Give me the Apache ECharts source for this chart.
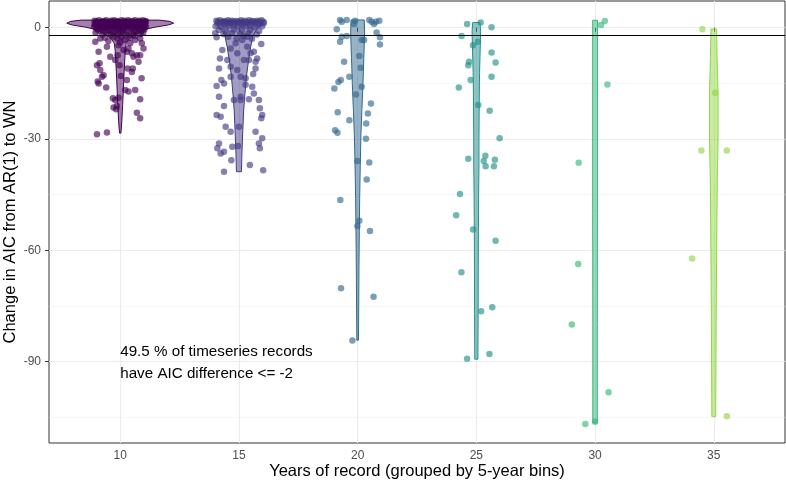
<!DOCTYPE html>
<html>
<head>
<meta charset="utf-8">
<script src="https://cdn.jsdelivr.net/npm/echarts@6/dist/echarts.min.js"></script>
<style>
  html, body { margin: 0; padding: 0; background: #fff; }
  #chart { width: 786px; height: 484px; }
</style>
</head>
<body>
<div id="chart"></div>
<script>
// bins and colours (viridis)
var bins = [10, 15, 20, 25, 30, 35];
var colors = ['#440154', '#443A83', '#31688E', '#21908C', '#35B779', '#8FD744'];
var yTicks = [-90, -60, -30, 0];
var yMinor = [-105, -75, -45, -15];
var threshold = -2;
var noteText = '49.5 % of timeseries records\nhave AIC difference <= -2';
var notePos = [10, -90.25];

// jittered points: [years (jittered), change in AIC]
var pts10 = [
  [8.92,1.9],[9.1,2.0],[9.27,1.8],[9.41,2.0],[9.6,1.9],[9.74,2.0],[9.88,1.8],[10.05,2.0],[10.18,1.9],[10.33,2.0],[10.49,1.8],[10.62,2.0],[10.8,1.9],[10.95,2.0],[11.06,1.8],
  [9.0,1.7],[9.19,1.6],[9.36,1.7],[9.55,1.6],[9.71,1.7],[9.9,1.6],[10.1,1.7],[10.24,1.6],[10.4,1.7],[10.6,1.6],[10.77,1.7],[10.92,1.6],[11.08,1.7],
  [8.98,1.4],[9.17,1.3],[9.33,1.5],[9.52,1.4],[9.69,1.2],[9.83,1.5],[10.0,1.3],[10.12,1.4],[10.27,1.5],[10.44,1.2],[10.58,1.4],[10.73,1.5],[10.9,1.3],[11.03,1.4],
  [8.93,1.1],[9.14,1.1],[9.38,1.2],[9.57,1.0],[9.8,1.1],[10.02,1.2],[10.2,1.0],[10.47,1.1],[10.65,1.2],[10.83,1.0],[11.05,1.1],
  [8.95,0.9],[9.12,0.8],[9.3,1.0],[9.46,0.7],[9.63,0.9],[9.79,1.0],[9.94,0.8],[10.09,0.9],[10.22,0.7],[10.38,1.0],[10.54,0.8],[10.68,0.9],[10.86,1.0],[11.0,0.7],
  [9.05,0.6],[9.2,0.6],[9.44,0.5],[9.66,0.6],[9.85,0.5],[10.13,0.6],[10.3,0.5],[10.52,0.6],[10.7,0.5],[10.88,0.6],[11.04,0.5],
  [8.9,0.3],[9.08,0.4],[9.25,0.2],[9.4,0.3],[9.58,0.5],[9.76,0.2],[9.91,0.3],[10.07,0.4],[10.25,0.1],[10.41,0.3],[10.57,0.5],[10.75,0.2],[10.93,0.4],[11.08,0.3],
  [9.0,0.0],[9.31,-0.1],[9.64,0.0],[9.96,-0.1],[10.2,0.0],[10.5,-0.1],[10.71,0.0],[10.98,-0.1],
  [9.03,-0.5],[9.22,-0.3],[9.55,-0.6],[9.86,-0.4],[10.15,-0.5],[10.46,-0.3],[10.8,-0.6],[11.02,-0.4],
  [9.13,-0.9],[9.47,-0.8],[9.8,-1.0],[10.1,-0.9],[10.59,-0.8],[10.88,-1.0],
  [8.96,-1.3],[9.36,-1.1],[9.7,-1.4],[10.03,-1.2],[10.35,-1.5],[10.66,-1.1],[10.97,-1.3],
  [9.25,-1.8],[9.6,-1.9],[9.92,-1.7],[10.27,-1.9],[10.55,-1.8],[10.85,-1.7],
  [9.35,-2.7],[9.88,-3.0],[10.05,-2.4],[10.4,-2.8],[10.62,-2.2],[9.5,-3.6],[10.0,-4.0],
  [8.95,-3.8],[9.09,-6.5],[9.02,-10.1],[9.13,-9.6],[9.05,-14.5],[9.09,-15.0],[9.41,-16.1],[9.23,-13.2],
  [9.58,-7.8],[9.79,-8.7],[9.89,-7.4],[9.93,-4.7],[10.14,-6.0],[10.28,-6.5],[10.35,-5.6],[10.49,-6.9],
  [10.56,-7.8],[10.7,-7.4],[10.84,-7.4],[10.91,-4.2],[10.98,-5.6],[10.42,-4.2],[10.53,-11.0],[10.49,-11.9],
  [10.63,-16.8],[10.9,-13.6],[10.28,-14.1],[10.21,-16.8],[10.35,-17.2],[9.69,-19.0],[9.79,-19.5],[9.93,-18.9],
  [9.86,-21.1],[9.72,-21.5],[9.83,-22.0],[10.7,-22.9],[10.84,-19.3],[10.84,-24.4],[9.02,-28.7],[9.44,-28.2],
  [9.97,-10.1],[10.03,-13.0],[10.31,-11.0],[9.16,-11.4],[9.3,-12.8],[9.44,-5.1],[10.77,-9.2],[10.17,-3.3],
  [9.16,-2.9],[9.72,-2.4],[10.84,-2.9],[10.63,-3.3]
];
var pts15 = [
  [14.05,1.9],[14.2,2.0],[14.38,1.8],[14.55,2.0],[14.72,1.9],[14.9,1.8],[15.08,2.0],[15.25,1.9],[15.43,2.0],[15.6,1.8],[15.78,1.9],[15.95,2.0],
  [14.12,1.7],[14.3,1.6],[14.47,1.7],[14.63,1.6],[14.8,1.7],[14.99,1.6],[15.16,1.7],[15.34,1.6],[15.52,1.7],[15.69,1.6],[15.87,1.7],[16.03,1.6],
  [14.1,1.2],[14.3,1.4],[14.48,1.1],[14.66,1.3],[14.84,1.2],[15.02,1.4],[15.18,1.0],[15.36,1.3],[15.55,1.2],[15.72,1.4],[15.9,1.1],[16.05,1.3],
  [14.02,0.4],[14.25,0.2],[14.6,0.5],[14.95,0.3],[15.3,0.4],[15.66,0.1],[15.98,0.4],
  [14.4,0.8],[14.77,0.7],[15.12,0.8],[15.47,0.6],[15.82,0.8],
  [14.15,-0.6],[14.45,-0.8],[14.8,-0.5],[15.12,-0.7],[15.48,-0.6],[15.85,-0.9],
  [14.0,-1.5],[14.35,-1.7],[14.7,-1.4],[15.05,-1.6],[15.4,-1.5],[15.75,-1.8],
  [14.55,-2.4],[14.9,-2.9],[15.2,-2.2],[15.55,-3.0],
  [14.06,-2.6],[14.3,-6.0],[14.2,-8.3],[14.16,-11.0],[14.26,-14.1],[14.06,-15.7],[14.37,-15.0],[14.16,-18.6],
  [14.37,-21.1],[14.06,-23.5],[14.23,-24.0],[14.44,-26.7],[14.65,-28.0],[14.16,-31.2],[14.09,-32.5],[14.23,-33.9],
  [14.37,-33.4],[14.37,-38.8],[14.72,-32.1],[14.68,-35.7],[14.96,-31.9],[15.0,-26.7],[15.07,-18.6],[15.07,-13.2],
  [14.93,-11.4],[15.28,-15.4],[15.42,-8.7],[15.63,-6.5],[15.7,-9.2],[15.77,-8.3],[15.7,-11.0],[15.35,-5.1],
  [15.49,-6.9],[15.21,-8.7],[15.14,-3.3],[15.35,-2.4],[14.86,-4.2],[14.65,-5.6],[14.93,-6.9],[14.51,-8.7],
  [15.63,-17.7],[15.84,-19.5],[15.88,-21.7],[15.98,-23.5],[15.94,-24.4],[15.7,-28.0],[15.98,-29.8],[15.84,-31.2],
  [15.88,-32.5],[15.46,-37.0],[16.02,-38.4],[15.56,-15.9],[15.07,-19.5],[14.79,-19.5],[15.28,-13.6],[14.65,-13.2],
  [14.65,-10.5],[15.94,-4.4],[15.6,-12.5],[15.42,-19.3]
];
var pts20 = [
  [19.26,2.1],[19.33,1.6],[19.54,2.1],[19.89,1.9],[19.85,1.0],[20.49,2.1],[20.59,1.6],[20.69,1.0],
  [20.77,1.6],[20.91,1.9],[19.12,-0.4],[19.33,-2.4],[19.54,-2.2],[19.26,-3.8],[20.17,-3.3],[20.27,-3.3],
  [20.8,-1.3],[20.94,-2.6],[20.94,-4.5],[19.43,-9.2],[20.07,-7.6],[20.13,-10.8],[19.65,-13.2],[19.29,-14.1],
  [19.19,-14.6],[19.02,-16.4],[20.17,-15.9],[19.93,-18.0],[20.56,-20.4],[19.16,-22.8],[20.43,-23.1],[19.65,-24.9],
  [20.36,-25.8],[19.05,-27.6],[19.15,-28.3],[20.35,-29.9],[19.99,-35.9],[20.49,-36.3],[20.38,-40.9],[19.27,-46.4],
  [20.07,-52.0],[19.99,-53.4],[20.52,-54.8],[19.3,-70.2],[20.67,-72.5],[19.78,-84.3]
];
var pts25 = [
  [24.61,1.0],[25.18,1.4],[25.64,0.1],[24.38,-2.2],[24.86,-4.7],[25.07,-3.8],[25.64,-6.7],[25.81,-9.4],
  [24.69,-9.2],[24.66,-10.1],[25.64,-13.2],[24.76,-14.1],[24.26,-16.1],[25.08,-20.8],[25.56,-22.4],[25.98,-29.8],
  [24.66,-35.3],[25.38,-34.5],[25.31,-35.9],[25.39,-37.3],[25.78,-35.6],[25.74,-37.3],[24.31,-44.8],[24.15,-50.5],
  [24.86,-54.4],[25.81,-57.4],[24.37,-65.9],[25.2,-76.4],[25.67,-75.3],[25.55,-87.9],[24.61,-89.2]
];
var pts30 = [
  [30.25,0.7],[30.41,1.8],[30.52,-15.3],[29.31,-36.4],[29.29,-63.7],[29.02,-80.0],[30.57,-98.2],[29.59,-106.8],[30.0,-106.2]
];
var pts35 = [
  [34.52,-0.4],[35.06,-17.5],[34.48,-33.1],[35.55,-33.1],[34.09,-62.2],[35.55,-104.7]
];

// violin outlines: [change in AIC, half width as share of bin spacing]
var vio10 = [[2.05,0.33],[1.7,0.42],[1.2,0.45],[0.7,0.40],[0.2,0.30],[-0.3,0.23],[-0.8,0.19],[-1.5,0.14],[-2.4,0.10],[-3.2,0.07],[-4.2,0.05],[-6,0.043],[-8.7,0.038],[-13,0.031],[-17.6,0.025],[-21,0.02],[-24.9,0.014],[-28.4,0.006]];
var vio15 = [[1.9,0.15],[1.3,0.19],[0.5,0.18],[-0.5,0.15],[-2,0.12],[-5,0.1],[-9,0.08],[-13.2,0.063],[-18,0.05],[-22.2,0.04],[-28,0.032],[-34,0.025],[-38.8,0.021]];
var vio20 = [[2.1,0.056],[-1.4,0.059],[-8,0.052],[-15,0.045],[-22,0.036],[-28.5,0.028],[-37,0.022],[-46,0.017],[-55,0.014],[-65,0.011],[-75,0.009],[-84.2,0.007]];
var vio25 = [[1.4,0.031],[-1,0.036],[-5,0.033],[-12,0.027],[-20,0.024],[-30,0.022],[-37,0.022],[-45,0.019],[-55,0.017],[-65,0.016],[-77,0.015],[-89.3,0.013]];
var vio30 = [[2.0,0.02],[-20,0.02],[-50,0.02],[-80,0.019],[-106.5,0.019]];
var vio35 = [[-0.35,0.024],[-8,0.028],[-17.5,0.036],[-30,0.036],[-40,0.03],[-60,0.024],[-80,0.02],[-104.8,0.016]];

var points = [pts10, pts15, pts20, pts25, pts30, pts35];
var violins = [vio10, vio15, vio20, vio25, vio30, vio35];
var binWidth = 5;
var font = '"Liberation Sans", Arial, Helvetica, sans-serif';

function rgba(hex, a) {
  var n = parseInt(hex.slice(1), 16);
  return 'rgba(' + (n >> 16) + ',' + ((n >> 8) & 255) + ',' + (n & 255) + ',' + a + ')';
}

function violinSeries(center, profile, color) {
  return {
    type: 'custom',
    silent: true,
    clip: false,
    z: 2,
    data: [[center, 0]],
    renderItem: function (params, api) {
      var right = [], left = [];
      profile.forEach(function (p) {
        right.push(api.coord([center + p[1] * binWidth, p[0]]));
        left.unshift(api.coord([center - p[1] * binWidth, p[0]]));
      });
      return {
        type: 'polygon',
        shape: { points: right.concat(left) },
        style: { fill: rgba(color, 0.5), stroke: color, lineWidth: 1 }
      };
    }
  };
}

var series = [];
bins.forEach(function (b, i) {
  series.push(violinSeries(b, violins[i], colors[i]));
  series.push({
    type: 'scatter',
    silent: true,
    z: 3,
    data: points[i],
    symbolSize: 6.5,
    itemStyle: { color: rgba(colors[i], 0.8) }
  });
});

// horizontal threshold line
series.push({
  type: 'scatter',
  data: [],
  z: 4,
  markLine: {
    silent: true,
    symbol: 'none',
    label: { show: false },
    lineStyle: { color: '#000', width: 1, type: 'solid' },
    data: [{ yAxis: threshold }]
  }
});

// annotation
series.push({
  type: 'custom',
  silent: true,
  z: 5,
  data: [notePos],
  renderItem: function (params, api) {
    var p = api.coord([api.value(0), api.value(1)]);
    return {
      type: 'text',
      x: p[0],
      y: p[1],
      style: {
        text: noteText,
        fill: '#000',
        font: '15.2px ' + font,
        lineHeight: 21.6,
        align: 'left',
        verticalAlign: 'middle'
      }
    };
  }
});

var chart = echarts.init(document.getElementById('chart'), null, { renderer: 'canvas' });
chart.setOption({
  animation: false,
  backgroundColor: '#fff',
  grid: {
    left: 49, right: 1, top: 1, bottom: 41,
    outerBoundsMode: 'none',
    containLabel: false,
    show: true, borderColor: '#333333', borderWidth: 1, backgroundColor: 'transparent'
  },
  xAxis: {
    type: 'value',
    min: 7, max: 38,
    name: 'Years of record (grouped by 5-year bins)',
    nameLocation: 'middle',
    nameGap: 20,
    nameMoveOverlap: false,
    nameTextStyle: { color: '#000', fontSize: 16.5, fontFamily: font },
    axisLine: { show: false },
    axisTick: { show: true, length: 4, customValues: bins, lineStyle: { color: '#333333' } },
    axisLabel: { customValues: bins, color: '#4D4D4D', fontSize: 12, fontFamily: font, margin: 7 },
    splitLine: { show: true, lineStyle: { color: '#EBEBEB', width: 1.1 } }
  },
  yAxis: [{
    type: 'value',
    min: -111.9, max: 7.2,
    name: 'Change in AIC from AR(1) to WN',
    nameLocation: 'middle',
    nameGap: 30,
    nameMoveOverlap: false,
    nameTextStyle: { color: '#000', fontSize: 16.5, fontFamily: font },
    axisLine: { show: false },
    axisTick: { show: true, length: 4, customValues: yTicks, lineStyle: { color: '#333333' } },
    axisLabel: { customValues: yTicks, color: '#4D4D4D', fontSize: 12, fontFamily: font, margin: 8 },
    splitLine: { show: true, lineStyle: { color: '#EBEBEB', width: 1.1 } }
  }, {
    type: 'value',
    min: -111.9, max: 7.2,
    position: 'left',
    axisLine: { show: false },
    axisTick: { show: false, customValues: yMinor },
    axisLabel: { show: false, customValues: yMinor },
    splitLine: { show: true, lineStyle: { color: '#F2F2F2', width: 0.6 } }
  }],
  series: series
});
</script>
</body>
</html>
